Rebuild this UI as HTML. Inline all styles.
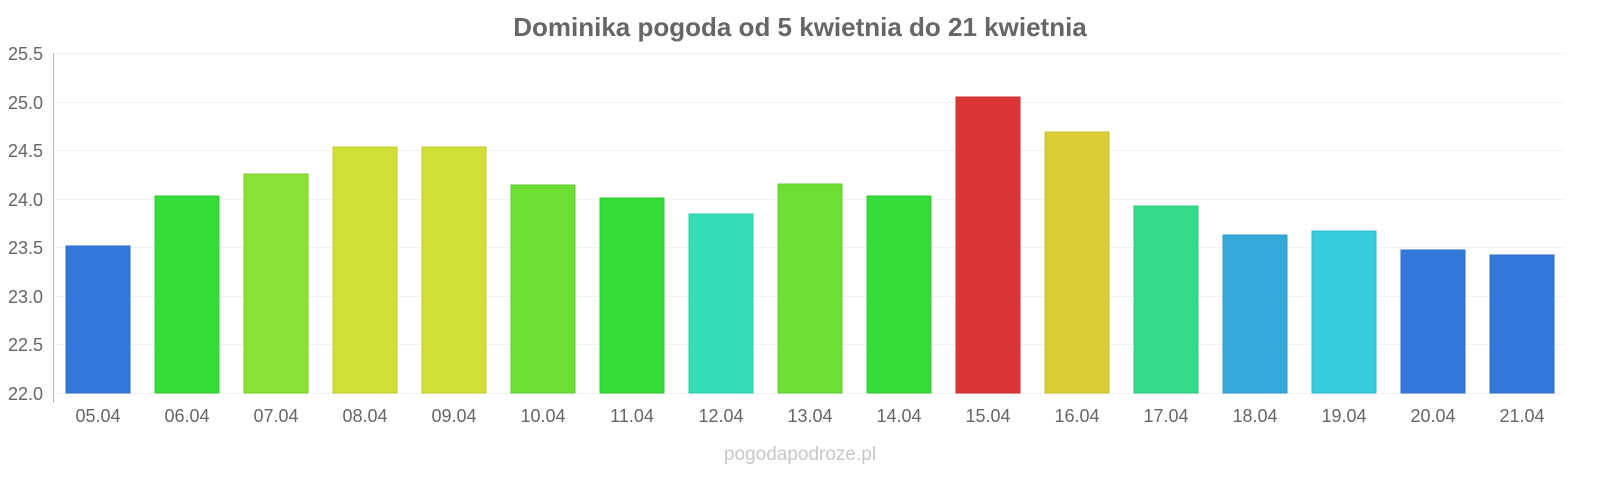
<!DOCTYPE html><html><head><style>body{margin:0;background:#fff}svg{display:block}text{font-family:"Liberation Sans",sans-serif}</style></head><body>
<svg width="1600" height="480" xmlns="http://www.w3.org/2000/svg">
<text x="800" y="36" text-anchor="middle" font-size="26" font-weight="bold" fill="#666">Dominika pogoda od 5 kwietnia do 21 kwietnia</text>
<g stroke="#f2f2f2" stroke-width="1">
<line x1="53" x2="1565" y1="53.5" y2="53.5"/><line x1="53" x2="1565" y1="102.5" y2="102.5"/><line x1="53" x2="1565" y1="150.5" y2="150.5"/><line x1="53" x2="1565" y1="199.5" y2="199.5"/><line x1="53" x2="1565" y1="247.5" y2="247.5"/><line x1="53" x2="1565" y1="296.5" y2="296.5"/><line x1="53" x2="1565" y1="344.5" y2="344.5"/><line x1="53" x2="1565" y1="393.5" y2="393.5"/>
</g>
<line x1="53.5" x2="53.5" y1="53" y2="403" stroke="#bbb"/>
<g font-size="18" fill="#666" text-anchor="end">
<text x="43" y="60">25.5</text><text x="43" y="109">25.0</text><text x="43" y="157">24.5</text><text x="43" y="206">24.0</text><text x="43" y="254">23.5</text><text x="43" y="303">23.0</text><text x="43" y="351">22.5</text><text x="43" y="400">22.0</text>
</g>
<g stroke-width="1">
<rect x="66" y="246" width="64" height="147" fill="#3578dc" stroke="#2f6ad0"/>
<rect x="155" y="196" width="64" height="197" fill="#35dc37" stroke="#2fcc30"/>
<rect x="244" y="174" width="64" height="219" fill="#8be035" stroke="#7dd02f"/>
<rect x="333" y="147" width="64" height="246" fill="#d1de35" stroke="#c0cc2f"/>
<rect x="422" y="147" width="64" height="246" fill="#d1de35" stroke="#c0cc2f"/>
<rect x="511" y="185" width="64" height="208" fill="#6ede35" stroke="#60cc2f"/>
<rect x="600" y="198" width="64" height="195" fill="#35dc37" stroke="#2fcc30"/>
<rect x="689" y="214" width="64" height="179" fill="#35dcb5" stroke="#2fcca6"/>
<rect x="778" y="184" width="64" height="209" fill="#6ede35" stroke="#60cc2f"/>
<rect x="867" y="196" width="64" height="197" fill="#35dc37" stroke="#2fcc30"/>
<rect x="956" y="97" width="64" height="296" fill="#dc3535" stroke="#cc2f2f"/>
<rect x="1045" y="132" width="64" height="261" fill="#dccd35" stroke="#ccbd2f"/>
<rect x="1134" y="206" width="64" height="187" fill="#35d98a" stroke="#2fc97c"/>
<rect x="1223" y="235" width="64" height="158" fill="#35a8da" stroke="#2f9aca"/>
<rect x="1312" y="231" width="64" height="162" fill="#35cbdc" stroke="#2fbccc"/>
<rect x="1401" y="250" width="64" height="143" fill="#3578dc" stroke="#2f6ad0"/>
<rect x="1490" y="255" width="64" height="138" fill="#3578dc" stroke="#2f6ad0"/>
</g>
<g font-size="18" fill="#666" text-anchor="middle">
<text x="98" y="422">05.04</text><text x="187" y="422">06.04</text><text x="276" y="422">07.04</text><text x="365" y="422">08.04</text><text x="454" y="422">09.04</text><text x="543" y="422">10.04</text><text x="632" y="422">11.04</text><text x="721" y="422">12.04</text><text x="810" y="422">13.04</text><text x="899" y="422">14.04</text><text x="988" y="422">15.04</text><text x="1077" y="422">16.04</text><text x="1166" y="422">17.04</text><text x="1255" y="422">18.04</text><text x="1344" y="422">19.04</text><text x="1433" y="422">20.04</text><text x="1522" y="422">21.04</text>
</g>
<text x="800" y="460" text-anchor="middle" font-size="19" fill="#c4c9c4">pogodapodroze.pl</text>
</svg></body></html>
